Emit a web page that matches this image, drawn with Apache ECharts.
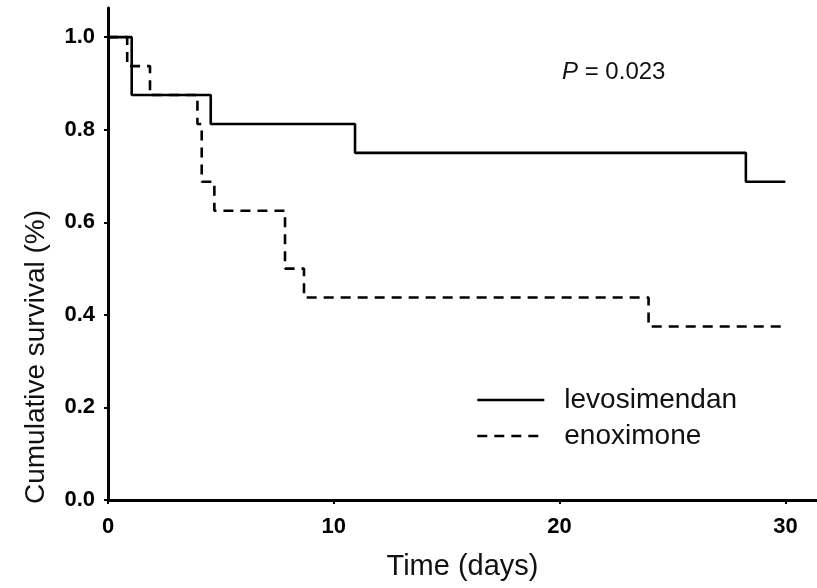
<!DOCTYPE html>
<html>
<head>
<meta charset="utf-8">
<script src="https://cdn.jsdelivr.net/npm/echarts@6/dist/echarts.min.js"></script>
<style>
html,body{margin:0;padding:0;background:#fff;}
#chart{width:817px;height:588px;}
</style>
</head>
<body>
<div id="chart"></div>
<script>
// Kaplan-Meier step data: [time (days), cumulative survival]
const levoTimes = [0, 1.05, 4.55, 10.94, 28.25, 30];
const levoSurv  = [1.0, 0.875, 0.8125, 0.75, 0.6875, 0.6875];
const enoxTimes = [0, 0.85, 1.86, 3.96, 4.15, 4.71, 7.84, 8.68, 23.94, 30];
const enoxSurv  = [1.0, 0.9375, 0.875, 0.8125, 0.6875, 0.625, 0.5, 0.4375, 0.375, 0.375];
const xTicks = [0, 10, 20, 30];
const yTicks = [0, 0.2, 0.4, 0.6, 0.8, 1.0];
const seriesNames = ['levosimendan', 'enoximone'];
const pText = '0.023';

const zip = (a, b) => a.map((v, i) => [v, b[i]]);
const chart = echarts.init(document.getElementById('chart'));
const FF = "'Liberation Sans', Arial, sans-serif";
chart.setOption({
  backgroundColor: '#ffffff',
  animation: false,
  title: {
    text: '{i|P} = ' + pText,
    left: 562, top: 60, padding: 0,
    textStyle: {
      fontFamily: FF, fontSize: 24, fontWeight: 'normal', color: '#111',
      rich: { i: { fontFamily: FF, fontSize: 24, fontStyle: 'italic', color: '#111' } }
    }
  },
  legend: {
    orient: 'vertical', left: 476, top: 386, padding: 0,
    itemWidth: 67, itemHeight: 20, itemGap: 8,
    itemStyle: { opacity: 0, color: 'transparent', borderColor: 'transparent', borderWidth: 0 },
    lineStyle: { width: 2.6 },
    textStyle: { fontFamily: FF, fontSize: 28, color: '#111', padding: [0, 0, 0, 15] },
    data: seriesNames
  },
  grid: { left: 108, right: 0, top: 8, bottom: 88 },
  xAxis: {
    type: 'value', min: 0, max: 31.4,
    name: 'Time (days)', nameLocation: 'middle', nameGap: 52,
    nameTextStyle: { fontFamily: FF, fontSize: 29, color: '#111' },
    axisLine: { lineStyle: { color: '#000', width: 3 } },
    axisTick: { length: 4, lineStyle: { color: '#000', width: 2 }, customValues: xTicks },
    axisLabel: { customValues: xTicks, margin: 16, fontFamily: FF, fontSize: 22, fontWeight: 'bold', color: '#000' },
    splitLine: { show: false }
  },
  yAxis: {
    type: 'value', min: 0, max: 1.063,
    name: 'Cumulative survival (%)', nameLocation: 'middle', nameGap: 58,
    nameTextStyle: { fontFamily: FF, fontSize: 28, color: '#111', padding: [0, 206, 0, 0] },
    axisLine: { show: true, lineStyle: { color: '#000', width: 3 } },
    axisTick: { show: true, length: 4, lineStyle: { color: '#000', width: 2 }, customValues: yTicks },
    axisLabel: { customValues: yTicks, margin: 13, fontFamily: FF, fontSize: 22, fontWeight: 'bold', color: '#000',
      formatter: v => v.toFixed(1) },
    splitLine: { show: false }
  },
  series: [
    {
      name: seriesNames[0], type: 'line', step: 'end', showSymbol: false, symbol: 'none',
      data: zip(levoTimes, levoSurv),
      lineStyle: { color: '#000', width: 2.6, type: 'solid' },
      itemStyle: { color: '#000' }, z: 3
    },
    {
      name: seriesNames[1], type: 'line', step: 'end', showSymbol: false, symbol: 'none',
      data: zip(enoxTimes, enoxSurv),
      lineStyle: { color: '#000', width: 2.6, type: [10, 7] },
      itemStyle: { color: '#000' }, z: 2
    }
  ]
});
</script>
</body>
</html>
